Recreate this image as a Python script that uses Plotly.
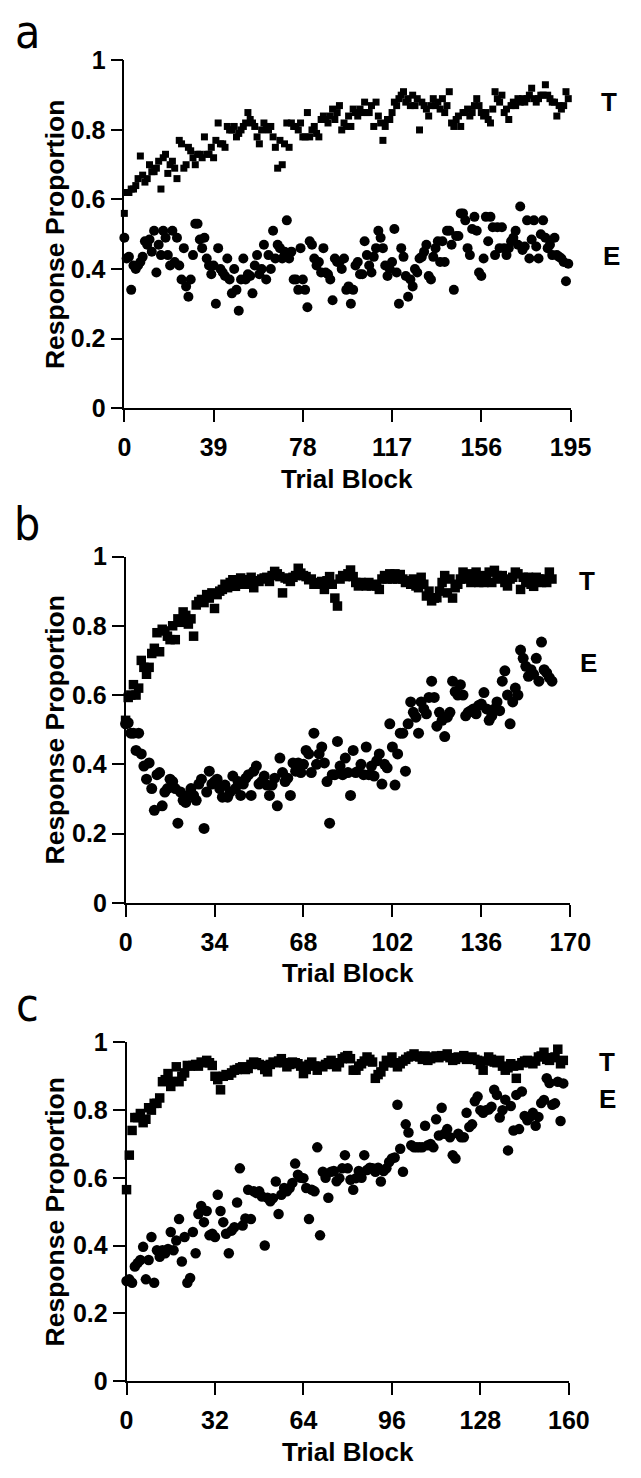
import plotly.graph_objects as go

# ---------------- data ----------------
# Panel a (blocks 0..194)
a_T = [0.56,0.62,0.62,0.63,0.63,0.64,0.66,0.725,0.67,0.65,
       0.66,0.70,0.68,0.68,0.69,0.71,0.63,0.72,0.73,0.675,
       0.70,0.71,0.69,0.66,0.77,0.76,0.69,0.70,0.75,0.74,
       0.72,0.70,0.73,0.73,0.72,0.78,0.73,0.73,0.75,0.72,
       0.77,0.82,0.76,0.76,0.75,0.81,0.80,0.80,0.81,0.78,
       0.79,0.80,0.81,0.82,0.85,0.83,0.82,0.81,0.78,0.76,
       0.80,0.82,0.81,0.80,0.81,0.78,0.75,0.69,0.77,0.70,
       0.76,0.82,0.75,0.82,0.81,0.81,0.80,0.82,0.78,0.78,
       0.85,0.78,0.80,0.81,0.79,0.78,0.83,0.84,0.83,0.82,
       0.84,0.86,0.83,0.85,0.87,0.80,0.82,0.81,0.84,0.81,
       0.86,0.85,0.84,0.86,0.85,0.88,0.85,0.85,0.87,0.81,
       0.88,0.84,0.82,0.77,0.81,0.83,0.83,0.85,0.88,0.87,
       0.89,0.90,0.91,0.88,0.89,0.87,0.90,0.87,0.89,0.80,
       0.88,0.87,0.86,0.84,0.87,0.89,0.87,0.88,0.86,0.89,
       0.85,0.87,0.91,0.82,0.81,0.83,0.84,0.81,0.85,0.85,
       0.86,0.84,0.85,0.87,0.89,0.87,0.85,0.84,0.85,0.83,
       0.82,0.86,0.91,0.89,0.88,0.90,0.85,0.86,0.83,0.87,
       0.88,0.87,0.89,0.88,0.89,0.88,0.89,0.90,0.92,0.89,
       0.88,0.89,0.90,0.90,0.93,0.90,0.89,0.88,0.88,0.84,
       0.87,0.86,0.87,0.91,0.89]
a_E = [0.49,0.43,0.435,0.34,0.41,0.40,0.41,0.42,0.435,0.48,
       0.47,0.485,0.45,0.51,0.39,0.47,0.44,0.51,0.49,0.44,
       0.41,0.51,0.42,0.49,0.41,0.37,0.46,0.35,0.32,0.37,
       0.44,0.53,0.53,0.485,0.46,0.49,0.43,0.41,0.385,0.41,
       0.30,0.46,0.40,0.39,0.38,0.43,0.37,0.33,0.40,0.34,
       0.28,0.37,0.43,0.37,0.385,0.38,0.33,0.41,0.44,0.385,
       0.40,0.47,0.37,0.44,0.40,0.51,0.43,0.47,0.46,0.43,
       0.45,0.54,0.43,0.45,0.37,0.37,0.34,0.46,0.37,0.34,
       0.29,0.48,0.47,0.43,0.41,0.42,0.39,0.46,0.39,0.385,
       0.37,0.31,0.43,0.42,0.42,0.40,0.43,0.34,0.35,0.30,
       0.34,0.41,0.42,0.385,0.385,0.48,0.44,0.41,0.39,0.435,
       0.46,0.51,0.49,0.46,0.41,0.38,0.40,0.42,0.515,0.39,
       0.30,0.46,0.435,0.38,0.32,0.37,0.35,0.40,0.39,0.43,
       0.435,0.45,0.47,0.38,0.37,0.435,0.46,0.48,0.42,0.48,
       0.42,0.51,0.51,0.47,0.34,0.495,0.495,0.56,0.56,0.54,
       0.46,0.44,0.515,0.55,0.51,0.39,0.38,0.43,0.55,0.48,
       0.55,0.52,0.44,0.52,0.46,0.52,0.46,0.44,0.46,0.48,
       0.49,0.51,0.47,0.58,0.455,0.465,0.54,0.43,0.485,0.54,
       0.465,0.43,0.50,0.54,0.49,0.46,0.47,0.44,0.49,0.44,
       0.435,0.43,0.42,0.365,0.415]

# Panel b (blocks 0..163)
b_T = [0.527,0.593,0.60,0.63,0.60,0.62,0.70,0.68,0.66,0.68,
       0.72,0.735,0.78,0.725,0.79,0.785,0.77,0.76,0.80,0.76,
       0.82,0.81,0.84,0.83,0.805,0.82,0.77,0.86,0.87,0.876,
       0.867,0.89,0.88,0.895,0.85,0.89,0.90,0.905,0.92,0.91,
       0.925,0.933,0.914,0.93,0.938,0.92,0.92,0.933,0.94,0.91,
       0.93,0.928,0.935,0.938,0.94,0.928,0.945,0.957,0.95,0.942,
       0.895,0.938,0.935,0.928,0.94,0.945,0.966,0.952,0.945,0.942,
       0.933,0.935,0.92,0.925,0.92,0.928,0.905,0.93,0.942,0.92,
       0.88,0.857,0.935,0.945,0.942,0.95,0.961,0.942,0.925,0.915,
       0.925,0.92,0.915,0.925,0.915,0.92,0.915,0.905,0.935,0.945,
       0.935,0.95,0.935,0.95,0.935,0.948,0.935,0.925,0.93,0.92,
       0.935,0.915,0.91,0.94,0.92,0.886,0.90,0.872,0.88,0.881,
       0.90,0.925,0.945,0.895,0.935,0.88,0.91,0.92,0.935,0.955,
       0.935,0.95,0.925,0.935,0.955,0.925,0.945,0.925,0.94,0.955,
       0.925,0.96,0.945,0.935,0.945,0.925,0.915,0.935,0.94,0.955,
       0.95,0.905,0.94,0.925,0.94,0.92,0.914,0.94,0.935,0.925,
       0.935,0.925,0.955,0.935]
b_E = [0.517,0.52,0.49,0.49,0.44,0.49,0.43,0.395,0.357,0.404,
       0.33,0.267,0.37,0.376,0.28,0.32,0.33,0.357,0.35,0.33,
       0.23,0.32,0.296,0.29,0.31,0.33,0.31,0.296,0.343,0.357,
       0.215,0.32,0.38,0.343,0.35,0.357,0.33,0.305,0.34,0.305,
       0.32,0.366,0.33,0.35,0.31,0.343,0.36,0.37,0.31,0.38,
       0.395,0.343,0.35,0.366,0.34,0.31,0.34,0.36,0.28,0.418,
       0.376,0.35,0.36,0.31,0.404,0.38,0.404,0.376,0.40,0.44,
       0.43,0.376,0.49,0.40,0.43,0.45,0.404,0.35,0.23,0.37,
       0.37,0.466,0.395,0.37,0.418,0.376,0.31,0.44,0.376,0.38,
       0.40,0.37,0.45,0.37,0.395,0.366,0.41,0.43,0.343,0.40,
       0.39,0.517,0.45,0.34,0.43,0.49,0.49,0.38,0.517,0.58,
       0.55,0.536,0.49,0.58,0.56,0.546,0.593,0.64,0.593,0.51,
       0.55,0.527,0.48,0.536,0.55,0.64,0.61,0.60,0.63,0.60,
       0.54,0.55,0.555,0.56,0.546,0.57,0.574,0.607,0.56,0.527,
       0.54,0.56,0.58,0.555,0.64,0.67,0.60,0.517,0.58,0.62,
       0.60,0.73,0.706,0.683,0.654,0.673,0.66,0.706,0.64,0.753,
       0.673,0.664,0.65,0.64]

# Panel c (blocks 0..158)
c_T = [0.565,0.667,0.74,0.778,0.778,0.79,0.763,0.773,0.807,0.80,
       0.82,0.82,0.836,0.884,0.89,0.908,0.87,0.885,0.928,0.884,
       0.90,0.91,0.932,0.93,0.932,0.935,0.93,0.942,0.94,0.947,
       0.94,0.932,0.90,0.89,0.86,0.90,0.905,0.903,0.91,0.918,
       0.92,0.925,0.928,0.92,0.923,0.935,0.942,0.94,0.935,0.932,
       0.92,0.913,0.935,0.942,0.94,0.945,0.952,0.94,0.928,0.935,
       0.942,0.94,0.937,0.93,0.908,0.92,0.935,0.942,0.93,0.918,
       0.93,0.928,0.935,0.94,0.947,0.935,0.928,0.94,0.952,0.957,
       0.961,0.952,0.918,0.918,0.93,0.937,0.945,0.957,0.95,0.942,
       0.894,0.905,0.913,0.93,0.947,0.94,0.957,0.94,0.928,0.937,
       0.945,0.95,0.957,0.96,0.966,0.96,0.957,0.95,0.96,0.947,
       0.952,0.957,0.96,0.955,0.961,0.96,0.966,0.955,0.947,0.95,
       0.957,0.955,0.961,0.95,0.955,0.957,0.95,0.947,0.935,0.918,
       0.945,0.957,0.95,0.942,0.94,0.947,0.93,0.918,0.925,0.937,
       0.93,0.894,0.932,0.94,0.945,0.947,0.94,0.937,0.945,0.957,
       0.96,0.971,0.95,0.947,0.955,0.957,0.98,0.937,0.947]
c_E = [0.295,0.30,0.29,0.338,0.348,0.357,0.396,0.30,0.357,0.425,
       0.29,0.386,0.367,0.386,0.377,0.39,0.44,0.386,0.415,0.478,
       0.353,0.425,0.29,0.304,0.44,0.377,0.493,0.517,0.469,0.502,
       0.43,0.435,0.425,0.55,0.502,0.469,0.435,0.377,0.444,0.454,
       0.527,0.628,0.459,0.48,0.565,0.478,0.56,0.555,0.56,0.545,
       0.40,0.541,0.531,0.54,0.589,0.493,0.55,0.57,0.56,0.57,
       0.585,0.642,0.609,0.60,0.599,0.57,0.478,0.565,0.56,0.69,
       0.43,0.618,0.60,0.541,0.618,0.62,0.59,0.599,0.628,0.667,
       0.628,0.594,0.565,0.599,0.62,0.60,0.667,0.623,0.63,0.628,
       0.618,0.63,0.589,0.62,0.628,0.647,0.657,0.66,0.816,0.686,
       0.618,0.758,0.734,0.696,0.69,0.69,0.69,0.69,0.754,0.696,
       0.70,0.69,0.773,0.725,0.807,0.73,0.744,0.72,0.667,0.657,
       0.73,0.72,0.72,0.792,0.75,0.758,0.826,0.84,0.80,0.792,
       0.80,0.802,0.81,0.86,0.845,0.778,0.80,0.831,0.681,0.812,
       0.74,0.845,0.744,0.855,0.783,0.77,0.78,0.792,0.754,0.78,
       0.821,0.83,0.894,0.88,0.816,0.82,0.884,0.768,0.879]

panels = [
    dict(letter="a", T=a_T, E=a_E, xmax=195, xticks=[0, 39, 78, 117, 156, 195],
         sq=7, ci=10),
    dict(letter="b", T=b_T, E=b_E, xmax=170, xticks=[0, 34, 68, 102, 136, 170],
         sq=9.5, ci=11),
    dict(letter="c", T=c_T, E=c_E, xmax=160, xticks=[0, 32, 64, 96, 128, 160],
         sq=9.5, ci=10.5),
]
y_ticks = [0, 0.2, 0.4, 0.6, 0.8, 1]
y_ticktext = ["0", "0.2", "0.4", "0.6", "0.8", "1"]

# ---------------- layout geometry (pixels) ----------------
W, H = 641, 1478
boxes = [  # left, right, top(y=1), bottom(y=0)
    (122.7, 589.3, 47.3, 401.7),
    (124.0, 589.0, 553.0, 906.0),
    (125.0, 587.5, 1048.3, 1393.3),
]
letter_pos = [(21, 18), (21, 520), (21, 1010)]
T_pos = [(630, 90), (607, 578), (627, 1068)]
E_pos = [(632, 247), (608, 662), (628, 1106)]

FONT = "Liberation Sans, Arial, Helvetica, sans-serif"
NARROW = "Liberation Sans Narrow, DejaVu Sans Condensed, Roboto Condensed, Arial Narrow, Liberation Sans, sans-serif"

fig = go.Figure()
annotations = []
layout_axes = {}

for i, (p, box) in enumerate(zip(panels, boxes)):
    n = i + 1
    xa = "x" if n == 1 else f"x{n}"
    ya = "y" if n == 1 else f"y{n}"
    L, R, Tp, B = box
    xdom = [L / W, R / W]
    ydom = [1 - B / H, 1 - Tp / H]

    xs_T = list(range(len(p["T"])))
    xs_E = list(range(len(p["E"])))
    fig.add_trace(go.Scatter(x=xs_T, y=p["T"], mode="markers", xaxis=xa, yaxis=ya,
                             marker=dict(symbol="square", size=p["sq"], color="black"),
                             cliponaxis=False, showlegend=False, hoverinfo="skip"))
    fig.add_trace(go.Scatter(x=xs_E, y=p["E"], mode="markers", xaxis=xa, yaxis=ya,
                             marker=dict(symbol="circle", size=p["ci"], color="black"),
                             cliponaxis=False, showlegend=False, hoverinfo="skip"))

    axcommon = dict(showline=True, linecolor="black", linewidth=1.6, ticks="outside",
                    ticklen=12, tickwidth=1.5, tickcolor="black", showgrid=False,
                    zeroline=False, fixedrange=True,
                    tickfont=dict(family=FONT, size=25, color="black", weight="bold"))
    layout_axes["xaxis" if n == 1 else f"xaxis{n}"] = dict(
        axcommon, domain=xdom, range=[0, p["xmax"]], tickvals=p["xticks"],
        ticktext=[str(v) for v in p["xticks"]], anchor=ya, ticklabelstandoff=4)
    layout_axes["yaxis" if n == 1 else f"yaxis{n}"] = dict(
        axcommon, domain=ydom, range=[0, 1], tickvals=y_ticks, ticktext=y_ticktext,
        anchor=xa, ticklabelstandoff=0)

    # axis titles
    annotations.append(dict(text="Trial Block", x=(L + R) / 2 / W, y=1 - (B + 72) / H,
                            xref="paper", yref="paper", showarrow=False,
                            xanchor="center", yanchor="middle",
                            font=dict(family=FONT, size=26, color="black", weight="bold")))
    annotations.append(dict(text="Response Proportion", x=50 / W, y=1 - ((Tp + B) / 2) / H,
                            xref="paper", yref="paper", showarrow=False, textangle=-90,
                            xanchor="center", yanchor="middle",
                            font=dict(family=FONT, size=26.5, color="black", weight="bold")))
    # panel letter
    lx, ly = letter_pos[i]
    annotations.append(dict(text=p["letter"], x=lx / W, y=1 - ly / H, xref="paper",
                            yref="paper", showarrow=False, xanchor="center",
                            yanchor="middle",
                            font=dict(family=NARROW, size=46, color="black")))
    # series labels
    for lab, (px, py) in (("T", T_pos[i]), ("E", E_pos[i])):
        annotations.append(dict(text=lab, x=px / W, y=1 - py / H, xref="paper",
                                yref="paper", showarrow=False, xanchor="center",
                                yanchor="middle",
                                font=dict(family=FONT, size=26, color="black",
                                          weight="bold")))

fig.update_layout(
    width=W, height=H, margin=dict(l=0, r=0, t=0, b=0),
    paper_bgcolor="white", plot_bgcolor="white",
    annotations=annotations, showlegend=False, **layout_axes)

fig.write_html("out.html", config={"displayModeBar": False},
               post_script="document.body.style.margin='0';document.body.style.padding='0';")
